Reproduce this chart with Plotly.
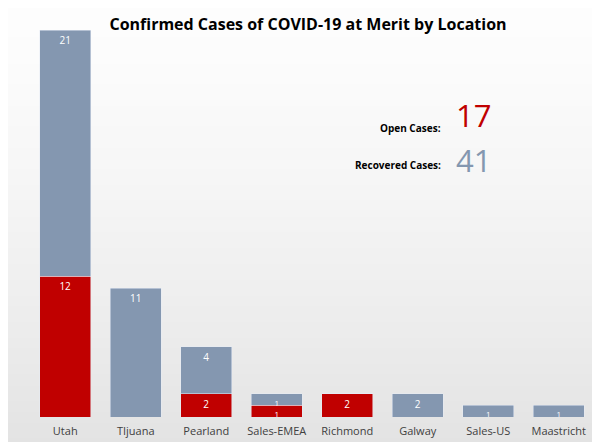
import plotly.graph_objects as go

locations = ["Utah", "TIjuana", "Pearland", "Sales-EMEA", "Richmond", "Galway", "Sales-US", "Maastricht"]
open_cases = [12, 0, 2, 1, 2, 0, 0, 0]
recovered_cases = [21, 11, 4, 1, 0, 2, 1, 1]

total_open = sum(open_cases)
total_recovered = sum(recovered_cases)

def labels(vals):
    return [str(v) if v else "" for v in vals]

# one-case bars are thin, so their label uses a smaller font to stay inside
def sizes(vals):
    return [10 if v > 1 else 8 for v in vals]

fig = go.Figure()
fig.add_trace(go.Bar(x=locations, y=open_cases, name="Open", marker_color="#c00000",
                     text=labels(open_cases), textposition="inside", insidetextanchor="end",
                     textfont=dict(color="white", size=sizes(open_cases)), textangle=0))
fig.add_trace(go.Bar(x=locations, y=recovered_cases, name="Recovered", marker_color="#8497b0",
                     text=labels(recovered_cases), textposition="inside", insidetextanchor="end",
                     textfont=dict(color="white", size=sizes(recovered_cases)), textangle=0))

# soft grey gradient background
shapes = []
n = 100
for i in range(n):
    f = i / (n - 1)
    g = int(255 - 30 * f ** 1.5)
    shapes.append(dict(type="rect", xref="paper", yref="paper", x0=-0.1, x1=1.1,
                       y0=1.2 - (f + 1.0 / n) * 1.35, y1=1.2 - (f - 1.0 / n) * 1.35,
                       fillcolor=f"rgb({g},{g},{g})", line_width=0, layer="below"))

fig.update_layout(
    barmode="stack", bargap=0.28, showlegend=False,
    width=600, height=442,
    margin=dict(l=22, r=14, t=22, b=28),
    paper_bgcolor="white", plot_bgcolor="rgba(0,0,0,0)",
    shapes=shapes,
    uniformtext=dict(minsize=8, mode="show"),
    font=dict(family="Open Sans, DejaVu Sans, sans-serif", size=11, color="#404040"),
    title=dict(text="<b>Confirmed Cases of COVID-19 at Merit by Location</b>",
               x=0.5, y=0.975, xanchor="center", yanchor="top",
               font=dict(size=16, color="black")),
    xaxis=dict(showgrid=False, showline=False, ticklabelstandoff=6,
               tickfont=dict(size=11, color="#404040")),
    yaxis=dict(visible=False, range=[0, 33]),
    annotations=[
        dict(text="<b>Open Cases:</b>", x=0.733, y=0.746, xref="paper", yref="paper",
             xanchor="right", yanchor="middle", showarrow=False, font=dict(size=10, color="black")),
        dict(text=str(total_open), x=0.752, y=0.78, xref="paper", yref="paper",
             xanchor="left", yanchor="middle", showarrow=False, font=dict(size=31, color="#c00000")),
        dict(text="<b>Recovered Cases:</b>", x=0.733, y=0.651, xref="paper", yref="paper",
             xanchor="right", yanchor="middle", showarrow=False, font=dict(size=10, color="black")),
        dict(text=str(total_recovered), x=0.752, y=0.665, xref="paper", yref="paper",
             xanchor="left", yanchor="middle", showarrow=False, font=dict(size=31, color="#8497b0")),
    ],
)

fig.write_html("out.html")
